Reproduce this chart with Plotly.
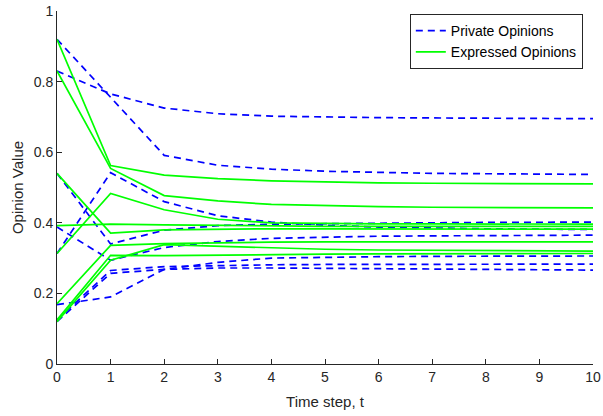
import plotly.graph_objects as go

t = list(range(11))

private = [
    [0.920, 0.757, 0.591, 0.563, 0.552, 0.546, 0.542, 0.540, 0.539, 0.538, 0.537],
    [0.830, 0.765, 0.725, 0.709, 0.702, 0.699, 0.698, 0.697, 0.696, 0.696, 0.695],
    [0.540, 0.340, 0.379, 0.392, 0.396, 0.398, 0.399, 0.400, 0.401, 0.401, 0.402],
    [0.388, 0.294, 0.330, 0.347, 0.356, 0.360, 0.362, 0.363, 0.364, 0.365, 0.365],
    [0.313, 0.542, 0.460, 0.420, 0.402, 0.393, 0.388, 0.385, 0.383, 0.382, 0.381],
    [0.168, 0.190, 0.268, 0.288, 0.300, 0.303, 0.304, 0.305, 0.306, 0.306, 0.306],
    [0.125, 0.265, 0.276, 0.279, 0.281, 0.282, 0.282, 0.283, 0.283, 0.283, 0.283],
    [0.120, 0.257, 0.268, 0.272, 0.272, 0.271, 0.270, 0.269, 0.268, 0.267, 0.266],
]

expressed = [
    [0.920, 0.562, 0.535, 0.525, 0.519, 0.515, 0.513, 0.512, 0.511, 0.511, 0.510],
    [0.830, 0.554, 0.477, 0.462, 0.452, 0.448, 0.446, 0.444, 0.443, 0.442, 0.442],
    [0.540, 0.371, 0.380, 0.382, 0.383, 0.383, 0.383, 0.383, 0.382, 0.382, 0.382],
    [0.392, 0.396, 0.394, 0.392, 0.391, 0.390, 0.390, 0.390, 0.390, 0.390, 0.390],
    [0.313, 0.483, 0.437, 0.410, 0.400, 0.398, 0.397, 0.397, 0.396, 0.396, 0.396],
    [0.171, 0.336, 0.341, 0.344, 0.345, 0.346, 0.346, 0.346, 0.346, 0.346, 0.346],
    [0.125, 0.308, 0.307, 0.309, 0.310, 0.311, 0.312, 0.312, 0.313, 0.313, 0.313],
    [0.120, 0.294, 0.338, 0.333, 0.328, 0.325, 0.323, 0.322, 0.321, 0.320, 0.320],
]

x_ticks = list(range(0, 11))
y_ticks = [0, 0.2, 0.4, 0.6, 0.8, 1.0]
y_tick_labels = ["0", "0.2", "0.4", "0.6", "0.8", "1"]

fig = go.Figure()
for i, series in enumerate(private):
    fig.add_trace(go.Scatter(
        x=t, y=series, mode="lines", name="Private Opinions",
        legendgroup="p", showlegend=(i == 0),
        line=dict(color="#0000FF", width=1.7, dash="7px,5px"),
    ))
for i, series in enumerate(expressed):
    fig.add_trace(go.Scatter(
        x=t, y=series, mode="lines", name="Expressed Opinions",
        legendgroup="e", showlegend=(i == 0),
        line=dict(color="#00FF00", width=1.7),
    ))

axis_color = "#262626"
font_family = "Liberation Sans, Arial, sans-serif"

fig.update_layout(
    width=603, height=416,
    margin=dict(l=57, r=10, t=11, b=52, autoexpand=False),
    paper_bgcolor="white", plot_bgcolor="white",
    font=dict(family=font_family, size=14, color=axis_color),
    showlegend=True,
    legend=dict(
        x=0.981, y=0.9915, xanchor="right", yanchor="top",
        bordercolor=axis_color, borderwidth=1, bgcolor="white",
        font=dict(size=14, color="black"),
        tracegroupgap=0, itemwidth=30,
    ),
    xaxis=dict(
        range=[0, 10], tickmode="array", tickvals=x_ticks,
        ticks="inside", ticklen=5, tickcolor=axis_color,
        showline=True, linecolor=axis_color, linewidth=1, mirror=False,
        showgrid=False, zeroline=False,
        title=dict(text="Time step, t", font=dict(size=15, color=axis_color), standoff=12),
        tickfont=dict(size=14, color=axis_color),
    ),
    yaxis=dict(
        range=[0, 1], tickmode="array", tickvals=y_ticks, ticktext=y_tick_labels,
        ticks="inside", ticklen=5, tickcolor=axis_color,
        showline=True, linecolor=axis_color, linewidth=1, mirror=False,
        showgrid=False, zeroline=False,
        title=dict(text="Opinion Value", font=dict(size=15, color=axis_color), standoff=6),
        tickfont=dict(size=14, color=axis_color),
    ),
)

fig.write_html("out.html")
